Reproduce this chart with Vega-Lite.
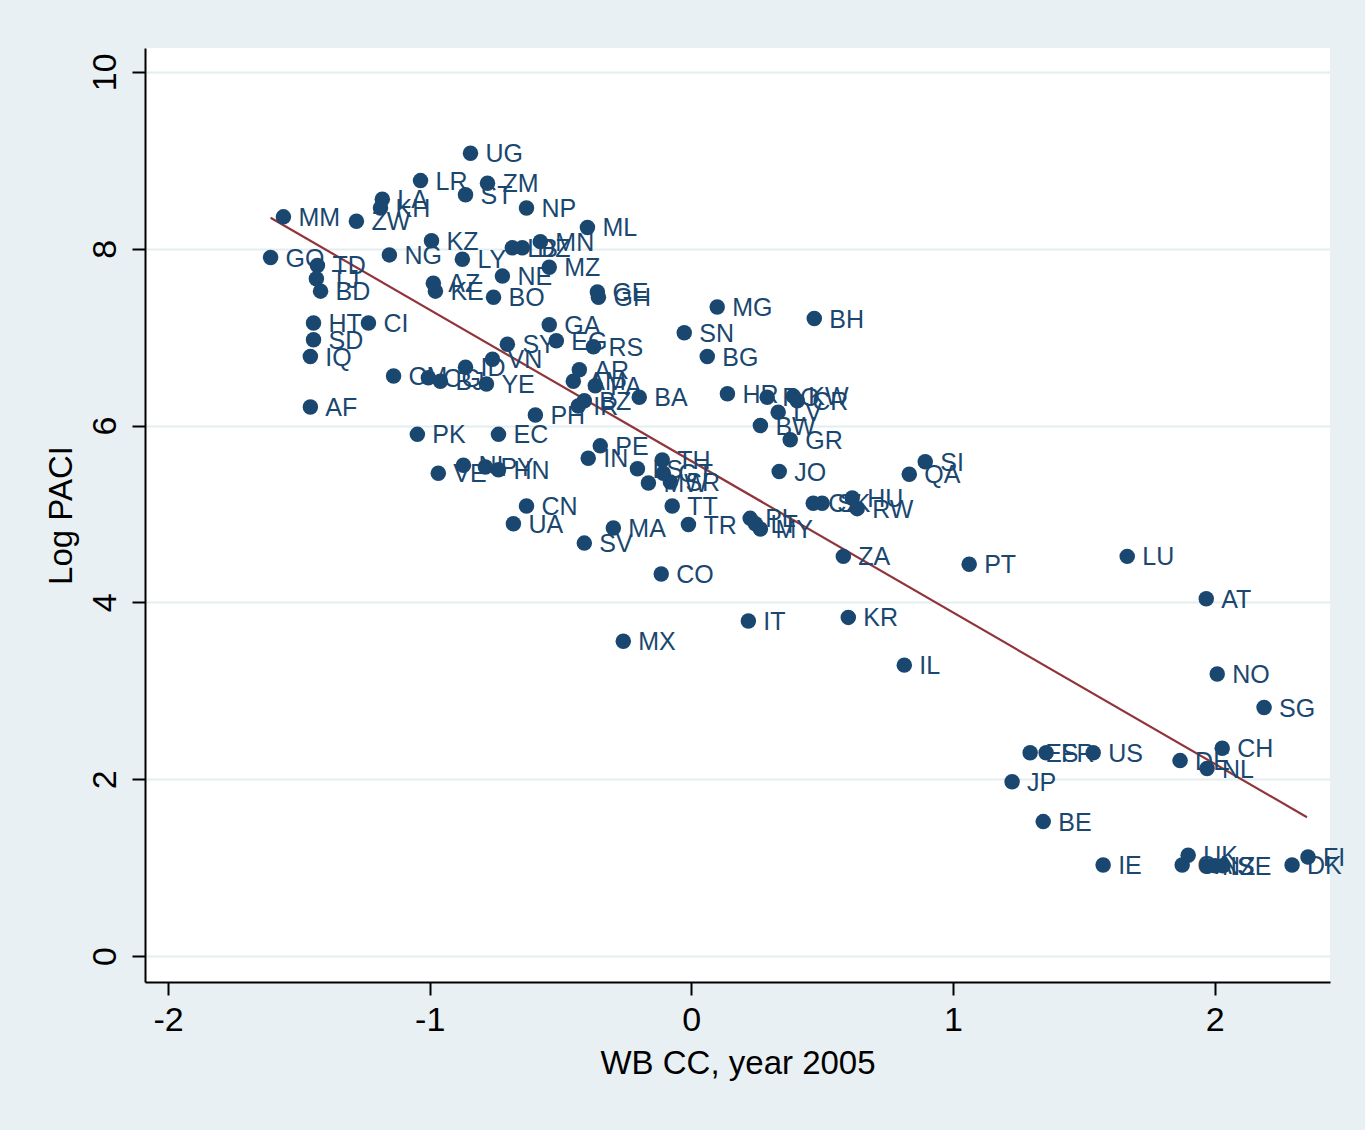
{
  "$schema": "https://vega.github.io/schema/vega-lite/v6.json",
  "autosize": "none",
  "width": 1185,
  "height": 934,
  "padding": {"left": 145, "top": 48, "right": 35, "bottom": 148},
  "background": "#e9f0f3",
  "config": {
    "view": {"fill": "white", "stroke": null},
    "font": "Liberation Sans"
  },
  "datasets": {
    "pts": [
      {"c": "UG", "x": -0.844, "y": 9.08},
      {"c": "LR", "x": -1.035, "y": 8.77},
      {"c": "ZM", "x": -0.779, "y": 8.74},
      {"c": "ST", "x": -0.863, "y": 8.61},
      {"c": "LA", "x": -1.181, "y": 8.56},
      {"c": "KH", "x": -1.188, "y": 8.46},
      {"c": "MM", "x": -1.559, "y": 8.36},
      {"c": "ZW", "x": -1.28, "y": 8.31},
      {"c": "NP", "x": -0.63, "y": 8.46},
      {"c": "ML", "x": -0.397, "y": 8.24},
      {"c": "KZ", "x": -0.993, "y": 8.09},
      {"c": "LB", "x": -0.684, "y": 8.01},
      {"c": "DZ", "x": -0.646, "y": 8.01},
      {"c": "MN", "x": -0.577, "y": 8.08},
      {"c": "GQ", "x": -1.608, "y": 7.9},
      {"c": "TD", "x": -1.429, "y": 7.81},
      {"c": "TJ", "x": -1.433, "y": 7.66},
      {"c": "BD", "x": -1.417, "y": 7.52},
      {"c": "NG", "x": -1.154, "y": 7.93},
      {"c": "LY", "x": -0.875, "y": 7.88},
      {"c": "AZ", "x": -0.986, "y": 7.61},
      {"c": "KE", "x": -0.978, "y": 7.52},
      {"c": "NE", "x": -0.722, "y": 7.69},
      {"c": "BO", "x": -0.756, "y": 7.45},
      {"c": "MZ", "x": -0.543, "y": 7.79},
      {"c": "GE", "x": -0.359, "y": 7.51},
      {"c": "GH", "x": -0.355, "y": 7.45},
      {"c": "HT", "x": -1.444, "y": 7.16},
      {"c": "SD", "x": -1.444, "y": 6.97},
      {"c": "IQ", "x": -1.456, "y": 6.78},
      {"c": "CI", "x": -1.234, "y": 7.16},
      {"c": "GA", "x": -0.543, "y": 7.14},
      {"c": "EG", "x": -0.516, "y": 6.96},
      {"c": "RS", "x": -0.374, "y": 6.89},
      {"c": "SY", "x": -0.703, "y": 6.92},
      {"c": "VN", "x": -0.76, "y": 6.75},
      {"c": "ID", "x": -0.863, "y": 6.66},
      {"c": "CM", "x": -1.138, "y": 6.56},
      {"c": "CG", "x": -1.005, "y": 6.54},
      {"c": "BJ", "x": -0.959, "y": 6.5},
      {"c": "YE", "x": -0.783, "y": 6.47},
      {"c": "AR", "x": -0.428, "y": 6.63},
      {"c": "AM", "x": -0.451, "y": 6.5},
      {"c": "PA", "x": -0.367, "y": 6.45},
      {"c": "BA", "x": -0.199, "y": 6.32},
      {"c": "IR", "x": -0.432, "y": 6.22},
      {"c": "BZ", "x": -0.409, "y": 6.28},
      {"c": "AF", "x": -1.456, "y": 6.21},
      {"c": "PH", "x": -0.596, "y": 6.12},
      {"c": "PK", "x": -1.047, "y": 5.9},
      {"c": "EC", "x": -0.737, "y": 5.9},
      {"c": "PE", "x": -0.348, "y": 5.77},
      {"c": "IN", "x": -0.394, "y": 5.63},
      {"c": "VE", "x": -0.967, "y": 5.46},
      {"c": "NI", "x": -0.871, "y": 5.55},
      {"c": "PY", "x": -0.787, "y": 5.53},
      {"c": "HN", "x": -0.737, "y": 5.5},
      {"c": "LS", "x": -0.206, "y": 5.51},
      {"c": "MW", "x": -0.164, "y": 5.35},
      {"c": "TH", "x": -0.111, "y": 5.61},
      {"c": "GT", "x": -0.107, "y": 5.46},
      {"c": "SR", "x": -0.08, "y": 5.36},
      {"c": "CN", "x": -0.63, "y": 5.09},
      {"c": "UA", "x": -0.68, "y": 4.89},
      {"c": "SV", "x": -0.409, "y": 4.67},
      {"c": "MA", "x": -0.298, "y": 4.84},
      {"c": "TT", "x": -0.073, "y": 5.09},
      {"c": "TR", "x": -0.011, "y": 4.88},
      {"c": "CO", "x": -0.115, "y": 4.32},
      {"c": "MG", "x": 0.099, "y": 7.34},
      {"c": "BH", "x": 0.47, "y": 7.21},
      {"c": "SN", "x": -0.027, "y": 7.05},
      {"c": "BG", "x": 0.061, "y": 6.78},
      {"c": "HR", "x": 0.138, "y": 6.36},
      {"c": "RO", "x": 0.29, "y": 6.32},
      {"c": "KW", "x": 0.39, "y": 6.33},
      {"c": "CR", "x": 0.405, "y": 6.28},
      {"c": "LV", "x": 0.332, "y": 6.15},
      {"c": "BW", "x": 0.264, "y": 6.0},
      {"c": "GR", "x": 0.378, "y": 5.84},
      {"c": "JO", "x": 0.336, "y": 5.48},
      {"c": "CZ", "x": 0.466, "y": 5.12},
      {"c": "SK", "x": 0.5, "y": 5.12},
      {"c": "HU", "x": 0.615, "y": 5.18},
      {"c": "RW", "x": 0.634, "y": 5.06},
      {"c": "SI", "x": 0.894, "y": 5.59},
      {"c": "QA", "x": 0.833, "y": 5.45},
      {"c": "PL", "x": 0.225, "y": 4.95},
      {"c": "LT", "x": 0.245, "y": 4.89},
      {"c": "MY", "x": 0.264, "y": 4.83},
      {"c": "ZA", "x": 0.581, "y": 4.52},
      {"c": "PT", "x": 1.062, "y": 4.43},
      {"c": "LU", "x": 1.666, "y": 4.52},
      {"c": "AT", "x": 1.968, "y": 4.04},
      {"c": "KR", "x": 0.6, "y": 3.83},
      {"c": "IT", "x": 0.218, "y": 3.79},
      {"c": "MX", "x": -0.26, "y": 3.56},
      {"c": "IL", "x": 0.814, "y": 3.29},
      {"c": "NO", "x": 2.01, "y": 3.19},
      {"c": "SG", "x": 2.189, "y": 2.81},
      {"c": "CH", "x": 2.029, "y": 2.35},
      {"c": "ES", "x": 1.295, "y": 2.3},
      {"c": "FR", "x": 1.356, "y": 2.3},
      {"c": "US", "x": 1.536, "y": 2.3},
      {"c": "DE", "x": 1.868, "y": 2.21},
      {"c": "NL", "x": 1.971, "y": 2.12},
      {"c": "JP", "x": 1.226, "y": 1.97},
      {"c": "BE", "x": 1.345, "y": 1.52},
      {"c": "IE", "x": 1.574, "y": 1.03},
      {"c": "UK", "x": 1.899, "y": 1.14},
      {"c": "CA", "x": 1.876, "y": 1.03},
      {"c": "NZ", "x": 1.971, "y": 1.02},
      {"c": "IS", "x": 2.002, "y": 1.02},
      {"c": "SE", "x": 2.032, "y": 1.02},
      {"c": "DK", "x": 2.296, "y": 1.03},
      {"c": "FI", "x": 2.357, "y": 1.12}
    ],
    "fit": [
      {"x": -1.608, "y": 8.35},
      {"x": 2.353, "y": 1.57}
    ]
  },
  "encoding": {
    "x": {
      "field": "x", "type": "quantitative",
      "scale": {"domain": [-2.088, 2.441], "nice": false, "zero": false},
      "axis": {
        "title": "WB CC, year 2005",
        "values": [-2, -1, 0, 1, 2],
        "labelExpr": "datum.value",
        "grid": false,
        "domainColor": "#000000", "domainWidth": 2,
        "tickColor": "#000000", "tickWidth": 2, "tickSize": 13,
        "labelFontSize": 34, "labelColor": "#000000", "labelPadding": 8,
        "titleFontSize": 33, "titleFontWeight": "normal", "titleColor": "#000000", "titlePadding": 10
      }
    },
    "y": {
      "field": "y", "type": "quantitative",
      "scale": {"domain": [-0.294, 10.27], "nice": false, "zero": false},
      "axis": {
        "title": "Log PACI",
        "values": [0, 2, 4, 6, 8, 10],
        "grid": true, "gridColor": "#e4edf0", "gridWidth": 2,
        "domainColor": "#000000", "domainWidth": 2,
        "tickColor": "#000000", "tickWidth": 2, "tickSize": 13,
        "labelFontSize": 34, "labelColor": "#000000", "labelPadding": 10,
        "labelAngle": 270, "labelAlign": "center", "labelBaseline": "bottom",
        "titleFontSize": 33, "titleFontWeight": "normal", "titleColor": "#000000", "titlePadding": 10
      }
    }
  },
  "layer": [
    {
      "data": {"name": "fit"},
      "mark": {"type": "line", "color": "#90353b", "strokeWidth": 2.2}
    },
    {
      "data": {"name": "pts"},
      "mark": {"type": "circle", "size": 240, "color": "#1a476f", "opacity": 1}
    },
    {
      "data": {"name": "pts"},
      "mark": {"type": "text", "align": "left", "baseline": "middle", "dx": 15, "dy": 1, "fontSize": 25, "color": "#1a476f"},
      "encoding": {"text": {"field": "c"}}
    }
  ]
}
